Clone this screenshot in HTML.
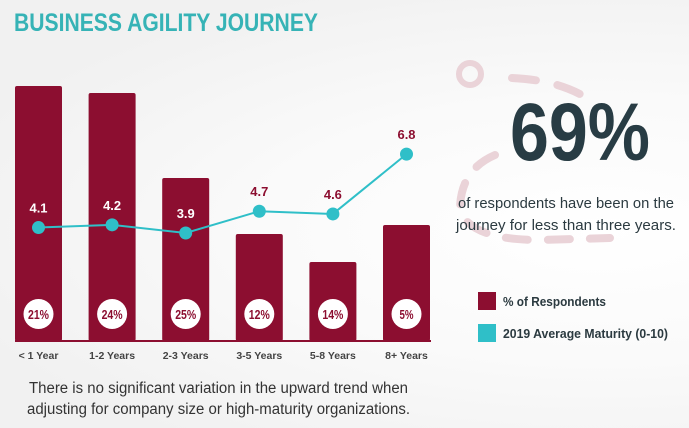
<!DOCTYPE html>
<html><head><meta charset="utf-8"><style>
body{margin:0;width:689px;height:428px;overflow:hidden;background:radial-gradient(ellipse at 600px 230px,#ffffff 0,#fafafa 40%,#f1f1f1 80%);font-family:"Liberation Sans",sans-serif;}
svg{position:absolute;left:0;top:0}
</style></head><body>
<svg width="689" height="428">
<text x="14" y="31" font-size="25" font-weight="bold" fill="#36b3b6" textLength="304" lengthAdjust="spacingAndGlyphs">BUSINESS AGILITY JOURNEY</text>
<g id="deco" fill="none" stroke="#ead3d8" stroke-width="8" stroke-linecap="round">
<circle cx="470" cy="74" r="11" stroke-width="6"/>
<path d="M512 78 Q560 80 590 100" stroke-dasharray="24 22"/>
<path d="M495 155 Q460 170 460 210 Q470 240 540 240 L610 238" stroke-dasharray="22 20"/>
</g>
<g id="bars"></g><g id="line"></g>
<text x="510" y="160" font-size="82" font-weight="bold" fill="#283c44" textLength="140" lengthAdjust="spacingAndGlyphs">69%</text>
<text x="458" y="208" font-size="15" fill="#2b3a40" textLength="216" lengthAdjust="spacingAndGlyphs">of respondents have been on the</text>
<text x="456" y="230" font-size="15" fill="#2b3a40" textLength="220" lengthAdjust="spacingAndGlyphs">journey for less than three years.</text>
<rect x="478" y="292" width="18" height="18" fill="#8c0e30"/>
<text x="503" y="306" font-size="13" font-weight="bold" fill="#2b3a40" textLength="103" lengthAdjust="spacingAndGlyphs">% of Respondents</text>
<rect x="478" y="324" width="18" height="18" fill="#2fbfc8"/>
<text x="503" y="338" font-size="13" font-weight="bold" fill="#2b3a40" textLength="165" lengthAdjust="spacingAndGlyphs">2019 Average Maturity (0-10)</text>
<text x="29" y="393" font-size="15.5" fill="#333" textLength="379" lengthAdjust="spacingAndGlyphs">There is no significant variation in the upward trend when</text>
<text x="27" y="414" font-size="15.5" fill="#333" textLength="383" lengthAdjust="spacingAndGlyphs">adjusting for company size or high-maturity organizations.</text>
</svg>
<script>
const categories=["< 1 Year","1-2 Years","2-3 Years","3-5 Years","5-8 Years","8+ Years"];
const barValues=[25.5,24.8,16.3,10.7,7.9,11.6];
const pctLabels=["21%","24%","25%","12%","14%","5%"];
const maturity=[4.1,4.2,3.9,4.7,4.6,6.8];
const NS="http://www.w3.org/2000/svg";
const base=341;
function xC(i){return 38.5+i*73.6;}
function yBar(v){return base-v*10;}
function yLine(v){return 233-(v-3.9)*27.2;}
function mk(t,a,p){const e=document.createElementNS(NS,t);for(const k in a)e.setAttribute(k,a[k]);p.appendChild(e);return e;}
const gb=document.getElementById('bars'),gl=document.getElementById('line');
categories.forEach((c,i)=>{
 const r=mk('rect',{x:xC(i)-23.5,y:yBar(barValues[i]),width:47,height:base-yBar(barValues[i]),rx:2,fill:'#8c0e30'},gb);
 
 
 const ci=mk('circle',{cx:xC(i),cy:314,r:15,fill:'#fff'},gb);
 
 
 const t=mk('text',{x:xC(i),y:319,'font-size':13,'font-weight':'bold',fill:'#8c0e30','text-anchor':'middle',textLength:pctLabels[i].length*7,lengthAdjust:'spacingAndGlyphs'},gb);
 t.textContent=pctLabels[i];
 
 
 const xl=mk('text',{x:xC(i),y:359,'font-size':10.5,'font-weight':'bold',fill:'#444','text-anchor':'middle'},gb);
 xl.textContent=c;
 
 
});
mk('rect',{x:15,y:base-1,width:416,height:2,fill:'#8c0e30'},gb);
const pts=maturity.map((v,i)=>xC(i)+','+yLine(v)).join(' ');
const pl=mk('polyline',{points:pts,fill:'none',stroke:'#2fbfc8','stroke-width':2},gl);


maturity.forEach((v,i)=>{
 const c=mk('circle',{cx:xC(i),cy:yLine(v),r:6.5,fill:'#2fbfc8'},gl);
 
 
 const inBar=yLine(v)>yBar(barValues[i]);
 const t=mk('text',{x:xC(i),y:yLine(v)-15,'font-size':13,'font-weight':'bold',fill:inBar?'#fff':'#8c0e30','text-anchor':'middle',textLength:18,lengthAdjust:'spacingAndGlyphs'},gl);
 t.textContent=v.toFixed(1);
 
 
});
</script>
</body></html>
